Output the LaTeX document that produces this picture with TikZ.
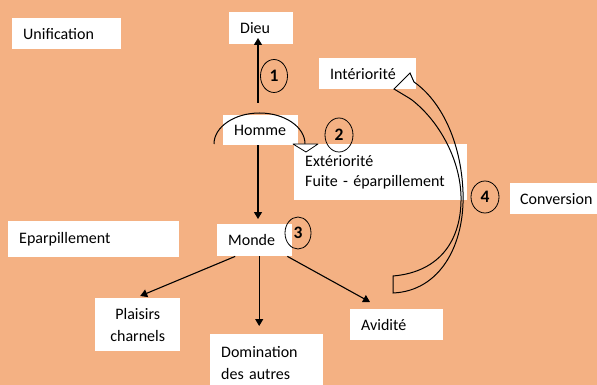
\documentclass[tikz,border=0pt]{standalone}
\usepackage{fontspec}
\setmainfont{Carlito}
\usetikzlibrary{arrows.meta,shapes.geometric,calc}
\definecolor{bg}{HTML}{F4B183}
\begin{document}
\begin{tikzpicture}[x=1pt,y=-1pt,
  box/.style={fill=white, anchor=north west, inner xsep=11pt, inner ysep=0pt, align=left,
    font=\fontsize{16}{20}\selectfont},
  numc/.style={draw, ellipse, line width=0.8pt, inner sep=0pt,
    font=\fontsize{17.5}{17.5}\selectfont\bfseries},
  arr/.style={line width=1.1pt, -{Triangle[width=8pt,length=7pt]}},
  thin line/.style={line width=1pt}]
\useasboundingbox (0,0) rectangle (597,385);
\clip (0,0) rectangle (597,385);
\fill[bg] (0,0) rectangle (597,385);

% boxes
\node[box, text width=87pt, minimum height=31pt] (unif) at (12,18) {Unification};
\node[box, text width=42pt, minimum height=32pt] (dieu) at (229,12) {Dieu};
\node[box, text width=75pt, minimum height=31pt] (inter) at (319,58) {Intériorité};
\node[box, text width=53pt, minimum height=30pt] (homme) at (223,115) {Homme};
\node[box, text width=151pt, minimum height=56pt] (exter) at (294,144) {Extériorité\\Fuite - éparpillement};
\node[box, inner xsep=10pt, text width=70pt, minimum height=31pt] (conv) at (510,183) {Conversion};
\node[box, text width=149pt, minimum height=36pt] (epar) at (8,221) {Eparpillement};
\node[box, text width=53pt, minimum height=32pt] (monde) at (217,224) {Monde};
\node[box, text width=63pt, minimum height=53pt, align=center,
  font=\fontsize{16}{22}\selectfont] (plaisirs) at (95,298) {Plaisirs\\charnels};
\node[box, text width=91pt, minimum height=57pt,
  font=\fontsize{16}{22}\selectfont] (domin) at (210,334) {Domination\\des autres};
\node[box, text width=71pt, minimum height=31pt] (avid) at (350,309) {Avidité};

% connectors
\coordinate (h1) at (258,103);
\coordinate (d1) at (258,38);
\draw[arr] (h1) -- (d1);
\draw[arr, shorten >=5pt] (homme.south -| h1) -- (monde.north -| h1);
\draw[arr] ([xshift=-19.5pt]monde.south) -- ([xshift=2.5pt,yshift=2pt]plaisirs.north);
\draw[arr, shorten >=8pt] ([xshift=4.5pt]monde.south) -- ([xshift=4.5pt]monde.south |- domin.north);
\draw[arr] ([xshift=-5pt]monde.south east) -- ($(avid.north west)+(20,-7)$);

% arc over Homme with open triangle
\draw[thin line] (214,144) arc[start angle=180, end angle=360, x radius=45.5, y radius=31];
\draw[fill=white, line width=0.8pt, line join=round] (293,144) -- (318,144) -- (306,152) -- cycle;

% curved block arrow (conversion)
\draw[thin line, line join=miter]
  (393,293) .. controls (440,291) and (465,245) .. (463,192)
  .. controls (461,140) and (440,100) .. (414,82)
  -- (410,73) -- (394,89) -- (409,98) -- (412,100)
  .. controls (440,122) and (460,160) .. (461,196)
  .. controls (462,240) and (440,272) .. (393,276) -- cycle;

% numbered ellipses
\node[numc, minimum width=27pt, minimum height=33pt] (n1) at (274,76) {1};
\node[numc, minimum width=28pt, minimum height=34pt] (n2) at (339,135) {2};
\node[numc, minimum width=26pt, minimum height=32pt] (n3) at (298,233) {3};
\node[numc, minimum width=28pt, minimum height=32pt] (n4) at (485,197) {4};
\end{tikzpicture}
\end{document}
